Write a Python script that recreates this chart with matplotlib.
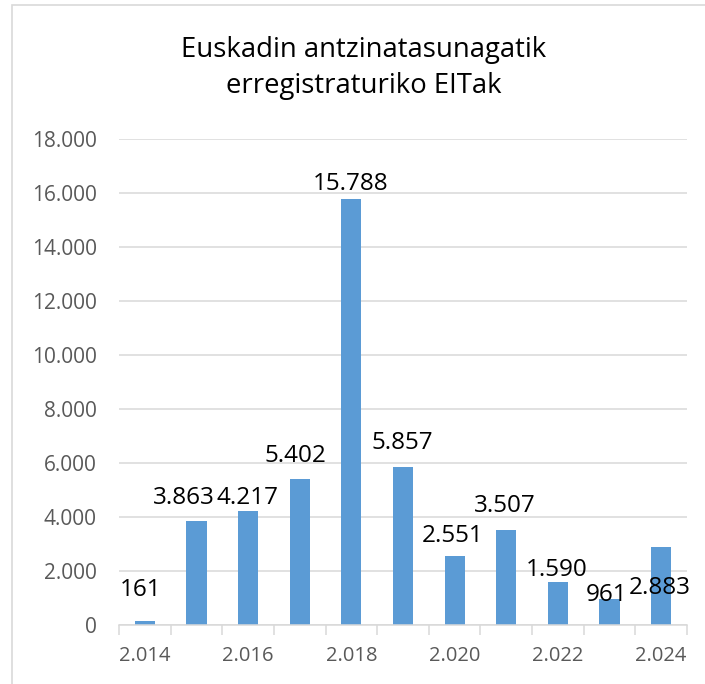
import matplotlib
matplotlib.use("Agg")
import matplotlib.pyplot as plt
from matplotlib.patches import Rectangle
import numpy as np

plt.rcParams['font.family'] = ['Open Sans', 'DejaVu Sans']

# data
years = [2014, 2015, 2016, 2017, 2018, 2019, 2020, 2021, 2022, 2023, 2024]
counts = [161, 3863, 4217, 5402, 15788, 5857, 2551, 3507, 1590, 961, 2883]
title = "Euskadin antzinatasunagatik\nerregistraturiko EITak"

# manual label nudges (pixels, from bar top centre) like in the original sheet
label_dx = [-4, -13, -1, -4, -1, -1, -2, -1, -1, -3, -1]
label_dy = [31, 23, 13, 23, 15, 24, 20, 24, 12, 4, -41]


def fmt(v):
    # thousands separator with a dot
    return "{:,}".format(int(v)).replace(",", ".")


fig = plt.figure(figsize=(7.05, 6.84), dpi=100)
ax = fig.add_axes([119 / 705, 1 - 625 / 684, 568 / 705, (625 - 139) / 684])

x = np.arange(len(years))
bars = ax.bar(x, counts, width=0.39, color="#5B9BD5", zorder=3)

for i, b in enumerate(bars):
    ax.annotate(fmt(counts[i]),
                xy=(b.get_x() + b.get_width() / 2, b.get_height()),
                xytext=(label_dx[i], label_dy[i]), textcoords='offset pixels',
                ha='center', va='center', fontsize=17.5, color='black', zorder=4)

ax.set_xlim(-0.5, len(years) - 0.5)
ax.set_ylim(0, 18000)
ax.set_yticks(np.arange(0, 18001, 2000))
ax.set_yticklabels([fmt(v) for v in np.arange(0, 18001, 2000)])
ax.yaxis.grid(True, color="#D9D9D9", linewidth=1.1, zorder=0)
ax.tick_params(axis='y', length=0, pad=16, labelsize=15, labelcolor="#595959")

ax.set_xticks(x[::2])
ax.set_xticklabels([fmt(y) for y in years[::2]])
ax.set_xticks(np.arange(-0.5, len(years), 1), minor=True)
ax.tick_params(axis='x', which='major', length=0, pad=15, labelsize=14.5, labelcolor="#595959")
ax.tick_params(axis='x', which='minor', length=7, width=1.1, color="#D9D9D9")

for s in ['top', 'right', 'left']:
    ax.spines[s].set_visible(False)
ax.spines['bottom'].set_color("#D9D9D9")
ax.spines['bottom'].set_linewidth(1.1)
ax.spines['bottom'].set_zorder(5)

fig.text(364 / 705, 1 - 68 / 684, title, ha='center', va='center',
         fontsize=19.8, color='black', linespacing=1.4)

# chart border (only top/left are inside the picture)
fig.patches.append(Rectangle((12 / 705, -0.01), 1.0, 1 - 5 / 684 + 0.01,
                             transform=fig.transFigure, fill=False,
                             edgecolor="#D9D9D9", linewidth=1.2))

fig.savefig("out.png", dpi=100)
